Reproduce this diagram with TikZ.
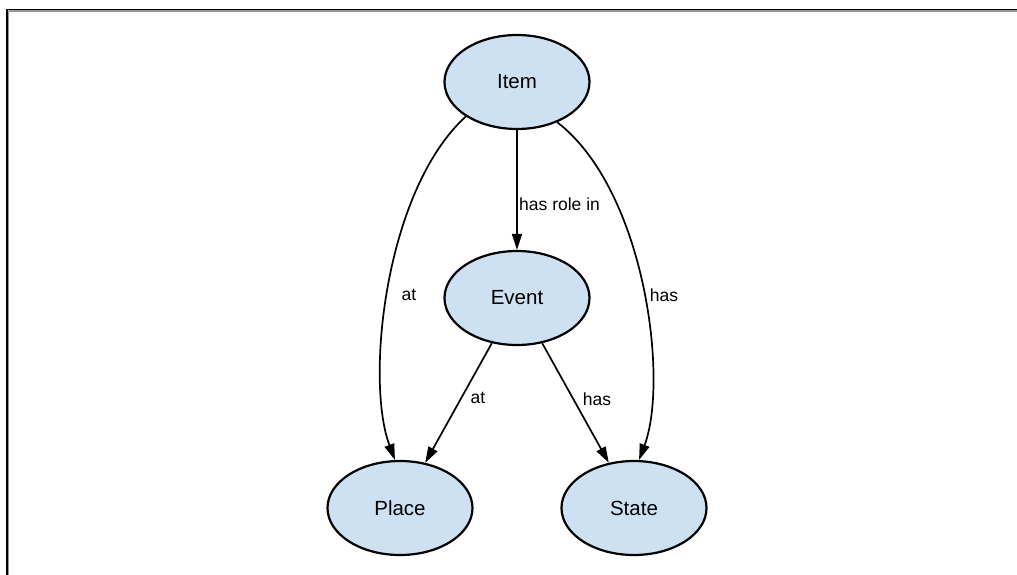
\documentclass[tikz,border=0pt]{standalone}
\usepackage{fontspec}
\setmainfont{Liberation Sans}
\usetikzlibrary{shapes.geometric,arrows.meta}
\definecolor{nodefill}{RGB}{206,225,242}
\definecolor{shadowgrey}{RGB}{150,150,150}
\tikzset{
  concept/.style={ellipse, draw=black, line width=2.2bp, fill=nodefill,
    minimum width=145bp, minimum height=94bp, inner sep=0pt,
    font=\fontsize{20.5bp}{24bp}\selectfont},
  rel/.style={draw=black, line width=1.7bp, -{Triangle[length=16bp,width=10bp]}},
  lbl/.style={inner sep=0pt, font=\fontsize{17.5bp}{21bp}\selectfont},
}
\begin{document}
\begin{tikzpicture}[x=1bp,y=-1bp]
\useasboundingbox (0,0) rectangle (1017,575);
% frame
\draw[shadowgrey, line width=1.2bp] (8.5,11) -- (1017,11);
\draw[shadowgrey, line width=1.2bp] (8.5,11) -- (8.5,575);
\draw[black, line width=1.5bp] (7,9.5) -- (1017,9.5);
\draw[black, line width=1.5bp] (7,9.5) -- (7,575);

\node[concept] (item)  at (517,82)  {Item};
\node[concept] (event) at (517,298) {Event};
\node[concept] (place) at (400,508) {Place};
\node[concept] (state) at (634,508) {State};

\draw[rel] (item) -- (event);
\draw[rel] (item.214) .. controls (385,190) and (365,380) .. (place.96);
\draw[rel] (item.315) .. controls (645,190) and (669,380) .. (state.84);
\draw[rel] (event) -- (place);
\draw[rel] (event) -- (state);

\node[lbl, anchor=west] (lrole) at (519,204) {has role in};
\node[lbl] (lat1) at (409,295) {at};
\node[lbl] (lhas1) at (664,295) {has};
\node[lbl] (lat2) at (478,398) {at};
\node[lbl] (lhas2) at (597,399) {has};
\end{tikzpicture}
\end{document}
